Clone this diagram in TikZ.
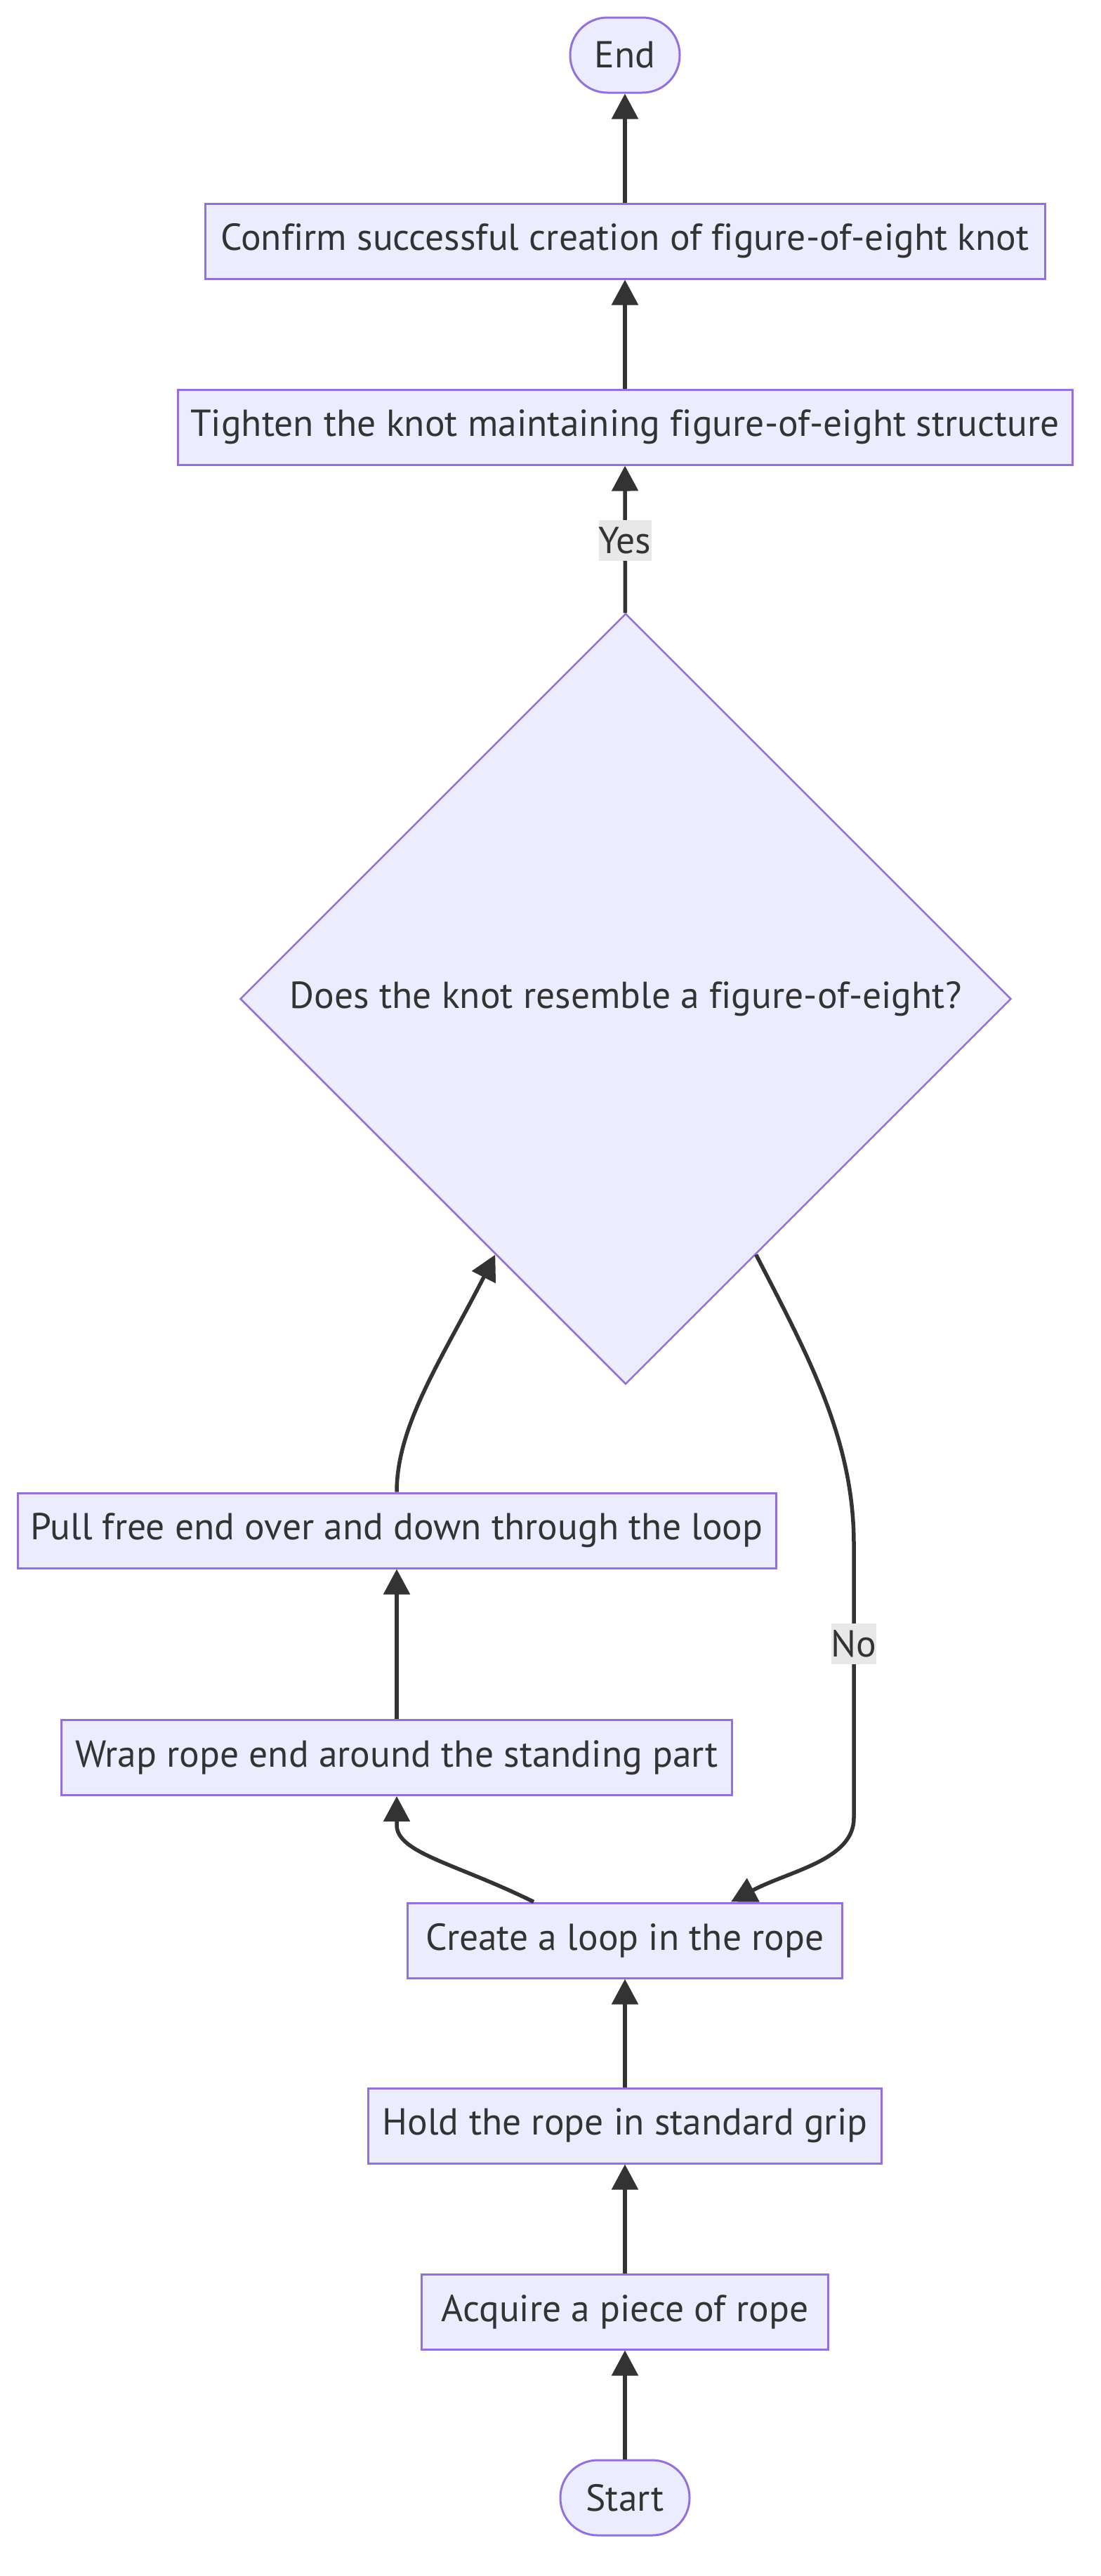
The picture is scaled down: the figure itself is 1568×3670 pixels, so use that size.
\documentclass[tikz,border=0pt]{standalone}
\usepackage{fontspec}
\setmainfont{PT Sans}[Ligatures=NoCommon]
\usetikzlibrary{arrows.meta,shapes.geometric}
\definecolor{nodefill}{HTML}{ECECFF}
\definecolor{nodeline}{HTML}{9370DB}
\definecolor{edgecol}{HTML}{333333}
\definecolor{lblfill}{HTML}{E8E8E8}
\newcommand{\nodefont}{\fontsize{53.5pt}{64pt}\selectfont}
\begin{document}
\begin{tikzpicture}[x=1pt,y=-1pt,
  box/.style={draw=nodeline, line width=3pt, fill=nodefill, text=edgecol,
    minimum height=107pt, inner sep=0pt, font=\nodefont},
  stadium/.style={box, rounded corners=53pt},
  decision/.style={diamond, aspect=1, draw=nodeline, line width=2.5pt, fill=nodefill,
    text=edgecol, minimum width=1098pt, minimum height=1098pt, inner sep=0pt, font=\nodefont},
  lbl/.style={fill=lblfill, text=edgecol, inner sep=0pt, minimum height=58pt, font=\nodefont},
  conn/.style={draw=edgecol, line width=5.5pt, -{Triangle[length=36pt,width=37pt]}}]
\fill[white] (0,0) rectangle (1568,3670);
\useasboundingbox (0,0) rectangle (1568,3670);

\node[stadium, minimum width=156pt] (end) at (890,78.5) {End};
\node[box, minimum width=1196pt] (confirm) at (890,343.5) {Confirm successful creation of figure-of-eight knot};
\node[box, minimum width=1274pt] (tighten) at (890,608.5) {Tighten the knot maintaining figure-of-eight structure};
\node[decision] (q) at (891,1423) {Does the knot resemble a figure-of-eight?};
\node[box, minimum width=1080pt] (pull) at (565,2180.5) {Pull free end over and down through the loop};
\node[box, minimum width=955pt] (wrap) at (565,2504) {Wrap rope end around the standing part};
\node[box, minimum width=619pt] (create) at (890,2764.5) {Create a loop in the rope};
\node[box, minimum width=731pt] (hold) at (890,3028.5) {Hold the rope in standard grip};
\node[box, minimum width=579pt] (acquire) at (890,3293.5) {Acquire a piece of rope};
\node[stadium, minimum width=184pt] (start) at (890,3558.5) {Start};

\draw[conn] (start) -- (acquire);
\draw[conn] (acquire) -- (hold);
\draw[conn] (hold) -- (create);
\draw[conn] ([xshift=-130pt]create.north) .. controls (650,2655) and (565,2640) .. (565,2600) -- (wrap.south);
\draw[conn] (wrap) -- (pull);
\draw[conn] (pull.north) .. controls (565,2030) and (630,1935) .. (q.-117);
\draw[conn] (q.-63) .. controls (1150,1930) and (1216,2050) .. (1216,2200) -- (1216,2590) .. controls (1216,2650) and (1125,2665) .. ([xshift=151pt]create.north);
\draw[conn] (q) -- (tighten);
\draw[conn] (tighten) -- (confirm);
\draw[conn] (confirm) -- (end);

\node[lbl, minimum width=70pt] (yes) at (890,770) {Yes};
\node[lbl, minimum width=60pt] (no) at (1216,2342) {No};
\end{tikzpicture}
\end{document}
